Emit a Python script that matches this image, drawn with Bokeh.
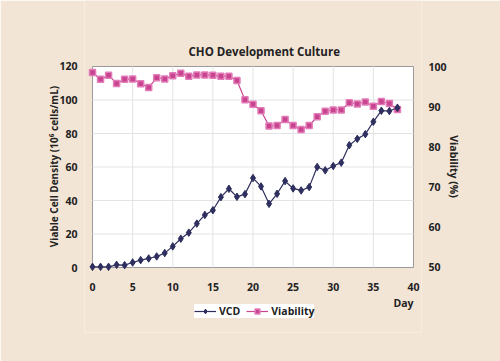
from bokeh.plotting import figure
from bokeh.models import Range1d, LinearAxis, Legend, LegendItem, ColumnDataSource, Label
from bokeh.embed import file_html
from bokeh.resources import INLINE

days = list(range(39))
vcd = [0.4, 0.4, 0.4, 1.6, 1.4, 3.0, 4.4, 5.4, 6.6, 8.6,
       12.6, 17.2, 20.8, 26.2, 31.4, 34.2, 42.0, 47.0, 42.2, 43.8,
       53.4, 48.4, 38.0, 44.0, 51.6, 47.2, 46.0, 48.0, 60.0, 58.0,
       60.6, 62.6, 73.0, 76.8, 79.6, 87.0, 93.6, 93.4, 95.4]
viability = [98.5, 96.8, 97.8, 95.8, 96.8, 96.9, 95.7, 94.8, 97.2, 96.9,
             97.7, 98.3, 97.6, 97.9, 97.9, 97.8, 97.6, 97.6, 96.5, 91.7,
             90.6, 89.0, 85.2, 85.3, 86.8, 85.3, 84.3, 85.3, 87.5, 88.9,
             89.2, 89.2, 91.0, 90.7, 91.2, 90.1, 91.3, 90.8, 89.3]
x_ticks = [0, 5, 10, 15, 20, 25, 30, 35, 40]
y_ticks = [0, 20, 40, 60, 80, 100, 120]
v_ticks = [50, 60, 70, 80, 90, 100]

FONT = "Open Sans"
BG = "#f3e5d5"
NAVY = "#2e2f5e"
PINK = "#c8448f"
TXT = "#222222"
GRID = "#e3e3e3"
EDGE = "#9a9a9a"

# the frame covers the title, plot area and legend strip; the white plot area is a quad
p = figure(width=500, height=361, output_backend="svg", toolbar_location=None,
           x_range=Range1d(-1, 41), y_range=Range1d(-38.8, 159.4),
           x_axis_location=None,
           min_border_left=84, min_border_right=79, min_border_top=0, min_border_bottom=29,
           frame_width=337, frame_height=332)
p.background_fill_color = BG
p.border_fill_color = BG
p.outline_line_color = None
p.xgrid.visible = False
p.ygrid.visible = False

p.extra_y_ranges = {"via": Range1d(33.83, 116.42)}

p.quad(left=[x_ticks[0]], right=[x_ticks[-1]], bottom=[y_ticks[0]], top=[y_ticks[-1]],
       fill_color="white", line_color=EDGE, line_width=1)
p.segment(x0=x_ticks[1:-1], y0=[y_ticks[0]] * 7, x1=x_ticks[1:-1], y1=[y_ticks[-1]] * 7,
          line_color=GRID, line_width=1)
p.segment(x0=[x_ticks[0]] * 5, y0=y_ticks[1:-1], x1=[x_ticks[-1]] * 5, y1=y_ticks[1:-1],
          line_color=GRID, line_width=1)

src = ColumnDataSource(dict(day=days, vcd=vcd, via=viability))

lv1 = p.line("day", "via", source=src, y_range_name="via", color=PINK, line_width=1.2)
lv2 = p.scatter("day", "via", source=src, y_range_name="via", marker="square", size=6,
                fill_color=PINK, line_color="#e27bb8", line_width=1.5)
l1 = p.line("day", "vcd", source=src, color=NAVY, line_width=1.2)
l2 = p.scatter("day", "vcd", source=src, marker="diamond", size=7.5, color=NAVY)

def style_axis(ax):
    ax.major_tick_line_color = None
    ax.minor_tick_line_color = None
    ax.axis_line_color = None
    ax.major_label_text_font = FONT
    ax.major_label_text_font_style = "bold"
    ax.major_label_text_font_size = "10.5px"
    ax.major_label_text_color = TXT
    ax.axis_label_text_font = FONT
    ax.axis_label_text_font_style = "bold"
    ax.axis_label_text_font_size = "10.5px"
    ax.axis_label_text_color = TXT

xax = LinearAxis(ticker=x_ticks, fixed_location=0, bounds=(0, 40))
style_axis(xax)
xax.major_label_standoff = 9
p.add_layout(xax, "below")

p.yaxis.ticker = y_ticks
p.yaxis.bounds = (0, 120)
style_axis(p.yaxis[0])
p.yaxis.major_label_standoff = 1
p.yaxis.axis_label = "Viable Cell Density (10\u2076 cells/mL)"
p.yaxis.axis_label_text_font_size = "10px"
p.yaxis.axis_label_standoff = -5

rax = LinearAxis(y_range_name="via", ticker=v_ticks, axis_label="Viability (%)", bounds=(50, 100))
style_axis(rax)
rax.major_label_standoff = 1
rax.axis_label_standoff = -3
p.add_layout(rax, "right")

title = Label(x=21.4, y=129.1, text="CHO Development Culture", text_align="center",
              text_baseline="middle", text_font=FONT, text_font_style="bold",
              text_font_size="11.5px", text_color=TXT)
p.add_layout(title)

day_lbl = Label(x=40, y=-20.9, text="Day", text_align="right", text_baseline="middle",
                text_font=FONT, text_font_style="bold", text_font_size="10.5px", text_color=TXT)
p.add_layout(day_lbl)

legend = Legend(items=[LegendItem(label="VCD", renderers=[l1, l2]),
                       LegendItem(label="Viability", renderers=[lv1, lv2])],
                orientation="horizontal", location=(110, 14),
                label_text_font=FONT, label_text_font_style="bold", label_text_font_size="10.5px",
                label_text_color=TXT, background_fill_color="white", background_fill_alpha=1,
                border_line_color=None,
                glyph_width=22, glyph_height=12, spacing=6, padding=3, margin=0, label_standoff=3,
                label_height=12)
p.add_layout(legend, "center")

open("out.html", "w").write(file_html(p, INLINE))
